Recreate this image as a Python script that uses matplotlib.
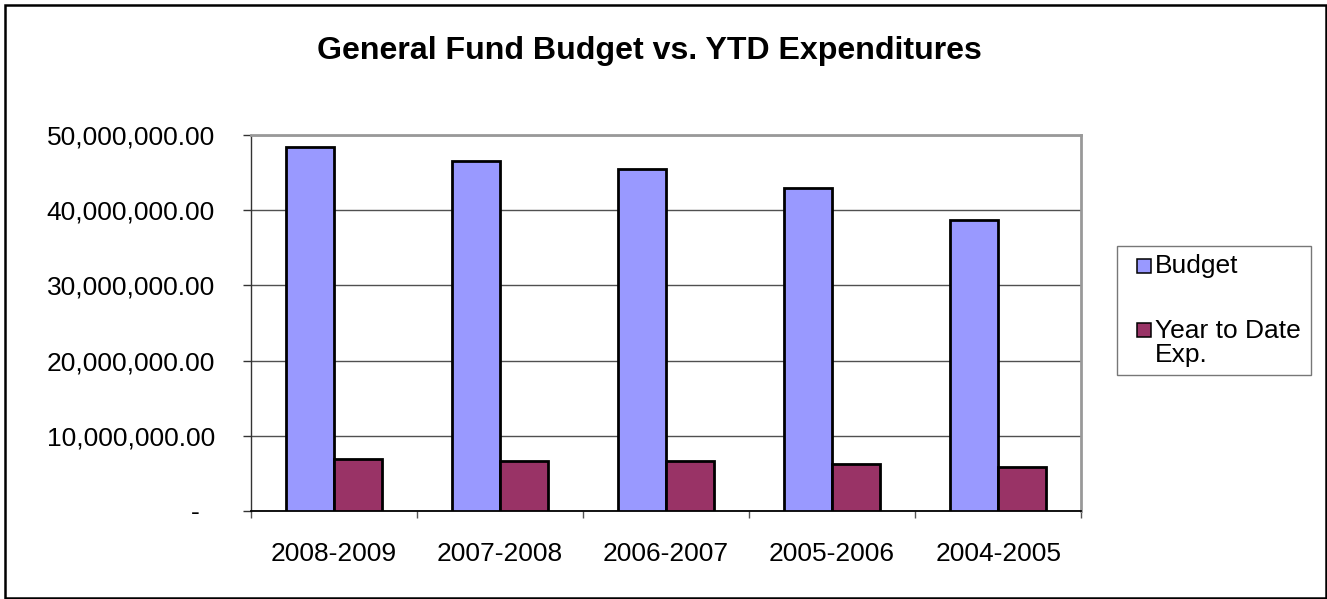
import matplotlib
matplotlib.use("Agg")
import matplotlib.pyplot as plt
from matplotlib.patches import Rectangle
from matplotlib.lines import Line2D
import numpy as np

categories = ["2008-2009", "2007-2008", "2006-2007", "2005-2006", "2004-2005"]
budget = [48_440_000, 46_600_000, 45_500_000, 42_900_000, 38_650_000]
ytd_exp = [6_870_000, 6_700_000, 6_700_000, 6_200_000, 5_800_000]
series_names = ["Budget", "Year to Date\nExp."]
series_colors = ["#9999FF", "#993366"]
yticks = [0, 10_000_000, 20_000_000, 30_000_000, 40_000_000, 50_000_000]
ytick_labels = ["-  ", "10,000,000.00", "20,000,000.00", "30,000,000.00",
                "40,000,000.00", "50,000,000.00"]

plt.rcParams['font.family'] = ['Liberation Sans', 'DejaVu Sans']

W, H = 1327, 599
FS = 19
fig = plt.figure(figsize=(W / 100, H / 100), dpi=100)
fig.patch.set_facecolor("white")

# outer border
fig.add_artist(Rectangle((5 / W, 1 - 598 / H), (1326 - 5) / W, (598 - 5) / H,
                         transform=fig.transFigure, fill=False,
                         edgecolor="black", linewidth=1.8))

ax = fig.add_axes([250.7 / W, 1 - 511 / H, (1081.3 - 250.7) / W, (511 - 135) / H])

x = np.arange(len(categories))
bw = 0.289
ax.bar(x - bw / 2, budget, bw, color=series_colors[0], edgecolor="black",
       linewidth=2.0, zorder=3)
ax.bar(x + bw / 2, ytd_exp, bw, color=series_colors[1], edgecolor="black",
       linewidth=2.0, zorder=3)

ax.set_xlim(-0.5, len(categories) - 0.5)
ax.set_ylim(0, 50_000_000)
ax.set_yticks(yticks)
ax.set_yticklabels(ytick_labels)
ax.yaxis.grid(True, color="#505050", linewidth=1.0, zorder=0)
ax.set_axisbelow(True)

ax.set_xticks(x)
ax.set_xticklabels(categories)
ax.set_xticks(np.arange(-0.5, len(categories)), minor=True)
ax.tick_params(axis="x", which="major", length=0, pad=22, labelsize=FS)
ax.tick_params(axis="x", which="minor", length=5, width=1, color="#555555",
               direction="out")
ax.tick_params(axis="y", length=5.8, width=1, color="#333333", pad=20,
               labelsize=FS, direction="out")

for side in ["top", "right"]:
    ax.spines[side].set_color("#999999")
    ax.spines[side].set_linewidth(2)
ax.spines["left"].set_color("#333333")
ax.spines["left"].set_linewidth(1)
ax.spines["bottom"].set_color("black")
ax.spines["bottom"].set_linewidth(1.3)

fig.text(649 / W, 1 - 59.5 / H, "General Fund Budget vs. YTD Expenditures",
         ha="center", va="baseline", fontsize=23.1, fontweight="bold")

handles = [Line2D([], [], linestyle="none", marker="s", markersize=10,
                  markerfacecolor=c, markeredgecolor="black",
                  markeredgewidth=1.1) for c in series_colors]
x0, x1 = 1116.7, 1310.7
leg = fig.legend(handles=handles, labels=series_names,
                 loc="upper left", mode="expand",
                 bbox_to_anchor=(x0 / W, 1 - 247 / H, (x1 - x0) / W, 0.001),
                 frameon=True, fancybox=False, fontsize=FS,
                 handlelength=1.5, handletextpad=-0.35,
                 labelspacing=1.53, borderpad=0.3, borderaxespad=0)
for t in leg.get_texts():
    t.set_linespacing(1.0)
    t.set_multialignment("left")
# place each marker beside the first line of its label
h1, h2 = leg.legend_handles
h1.set_ydata(np.asarray(h1.get_ydata()) - 1.5)
h2.set_ydata(np.asarray(h2.get_ydata()) + 9.4)
leg.get_frame().set_edgecolor("#555555")
leg.get_frame().set_linewidth(1)

fig.savefig("out.png", dpi=100, facecolor="white")
